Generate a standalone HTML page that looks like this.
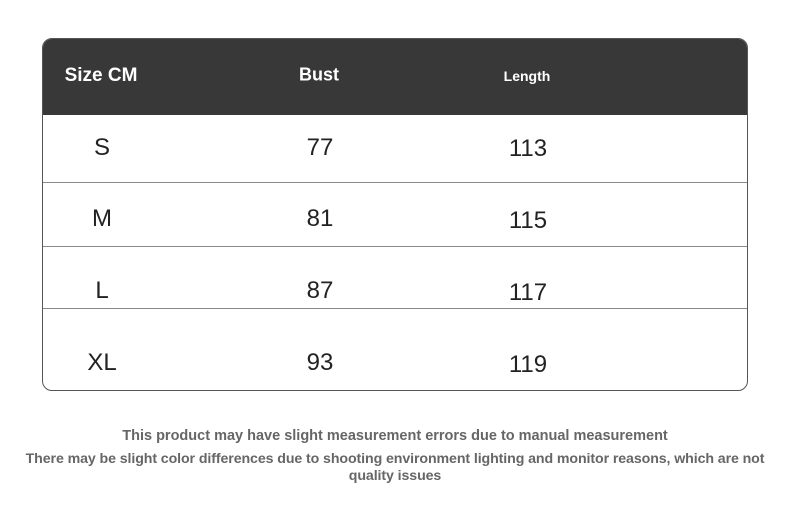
<!DOCTYPE html><html><head><style>
body{margin:0;width:790px;height:514px;background:#fff;position:relative;font-family:"Liberation Sans",sans-serif;overflow:hidden}
.t{position:absolute;left:42px;top:38px;width:706px;height:353px;border:1px solid #555;border-radius:10px;overflow:hidden;box-sizing:border-box}
.h{position:absolute;left:0;top:0;width:100%;height:76px;background:#383838}
.l{position:absolute;left:0;width:100%;height:1px;background:#888}
.x{position:absolute;transform:translate(-50%,-50%);white-space:nowrap}
.hd{color:#fff;font-weight:bold}
.c{color:#222;font-size:24px}
.f{position:absolute;width:790px;left:0;text-align:center;color:#666;font-weight:bold;font-size:14.5px;line-height:17px;white-space:nowrap}
</style></head><body>
<div class="t"><div class="h"></div>
<div class="l" style="top:143px"></div><div class="l" style="top:207px"></div><div class="l" style="top:269px"></div></div>
<div class="x hd" style="left:101px;top:76px;font-size:19px">Size CM</div>
<div class="x hd" style="left:319px;top:75px;font-size:18px">Bust</div>
<div class="x hd" style="left:527px;top:76px;font-size:14px">Length</div>
<div class="x c" style="left:102px;top:148px">S</div><div class="x c" style="left:320px;top:148px">77</div><div class="x c" style="left:528px;top:149px">113</div>
<div class="x c" style="left:102px;top:219px">M</div><div class="x c" style="left:320px;top:219px">81</div><div class="x c" style="left:528px;top:221px">115</div>
<div class="x c" style="left:102px;top:291px">L</div><div class="x c" style="left:320px;top:291px">87</div><div class="x c" style="left:528px;top:293px">117</div>
<div class="x c" style="left:102px;top:363px">XL</div><div class="x c" style="left:320px;top:363px">93</div><div class="x c" style="left:528px;top:365px">119</div>
<div class="f" style="top:428px">This product may have slight measurement errors due to manual measurement</div>
<div class="f" style="top:451px;font-size:14.2px;letter-spacing:-0.1px">There may be slight color differences due to shooting environment lighting and monitor reasons, which are not<br>quality issues</div>
</body></html>
